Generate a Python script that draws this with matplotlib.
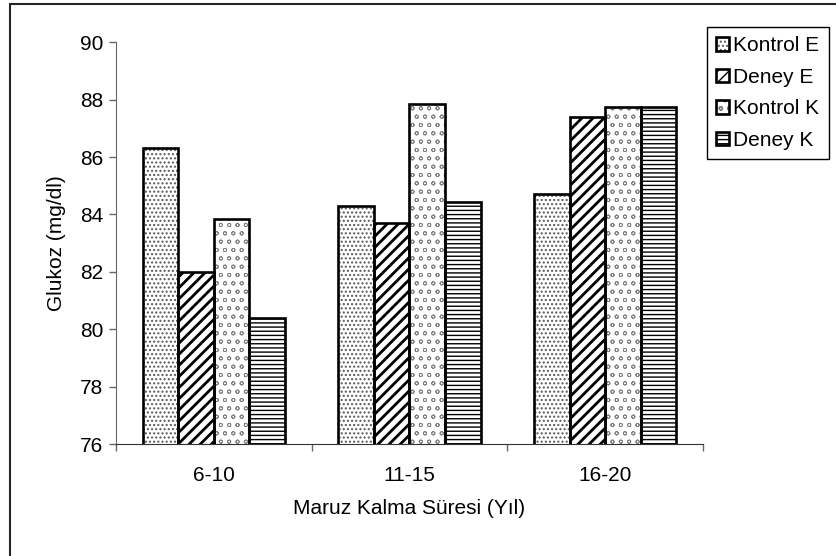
import numpy as np
import matplotlib
matplotlib.use("Agg")
import matplotlib.pyplot as plt
from matplotlib.patches import Rectangle
from matplotlib.legend_handler import HandlerTuple

# data
groups = ["6-10", "11-15", "16-20"]
series = ["Kontrol E", "Deney E", "Kontrol K", "Deney K"]
kontrol_e = [86.3, 84.3, 84.7]
deney_e = [82.0, 83.7, 87.4]
kontrol_k = [83.85, 87.85, 87.75]
deney_k = [80.4, 84.45, 87.75]
yticks = [76, 78, 80, 82, 84, 86, 88, 90]

# hatch styles per series (pattern, hatch colour, hatch linewidth)
styles = [("....", "0.35", 1.0), ("///", "black", 2.0),
          ("oo", "0.5", 0.6), ("----", "black", 1.0)]

plt.rcParams["font.family"] = ["Liberation Sans", "DejaVu Sans"]
plt.rcParams["font.size"] = 15

fig = plt.figure(figsize=(8.36, 5.56), dpi=100)
ax = fig.add_axes([116 / 836, 1 - 444 / 556, (703 - 116) / 836, (444 - 42.3) / 556])

x = np.arange(len(groups))
width = 0.182
handles = []
for i, vals in enumerate([kontrol_e, deney_e, kontrol_k, deney_k]):
    pos = x + (i - 1.5) * width
    hatch, hcol, hlw = styles[i]
    with plt.rc_context({"hatch.linewidth": hlw}):
        h = ax.bar(pos, vals, width, bottom=0, color="white", edgecolor=hcol,
                   hatch=hatch, linewidth=0, zorder=2)
    for p in h:
        if hasattr(p, "set_hatch_linewidth"):
            p.set_hatch_linewidth(hlw)
    e = ax.bar(pos, vals, width, bottom=0, fill=False, edgecolor="black",
               linewidth=1.9, zorder=3)
    handles.append((h, e))

ax.set_ylim(76, 90)
ax.set_xlim(-0.5, 2.5)
ax.set_yticks(yticks)
ax.tick_params(axis="y", direction="out", length=5, width=1, color="0.4", pad=4)

# category boundaries get the tick marks, labels sit in between
ax.set_xticks([-0.5, 0.5, 1.5, 2.5])
ax.set_xticklabels([])
ax.set_xticks(x, minor=True)
ax.set_xticklabels(groups, minor=True)
ax.tick_params(axis="x", which="major", direction="out", length=5, width=1, color="0.4")
ax.tick_params(axis="x", which="minor", length=0, pad=16)

for s in ["top", "right"]:
    ax.spines[s].set_visible(False)
ax.spines["left"].set_color("0.4")
ax.spines["bottom"].set_color("0.2")

ax.set_ylabel("Glukoz (mg/dl)", labelpad=10)
ax.set_xlabel("Maruz Kalma Süresi (Yıl)", labelpad=10)

leg = fig.legend(handles, series, loc="upper left",
                 bbox_to_anchor=(707 / 836, 1 - 27 / 556),
                 bbox_transform=fig.transFigure,
                 handler_map={tuple: HandlerTuple(ndivide=1)},
                 fancybox=False, edgecolor="black", framealpha=1,
                 borderpad=0.45, borderaxespad=0, handlelength=0.6,
                 handleheight=0.6, handletextpad=0.2, labelspacing=0.6)
leg.get_frame().set_linewidth(1)

# chart-area border (runs off the right and bottom of the picture)
fig.add_artist(Rectangle((10 / 836, -0.2), 1.2, 1 - 4 / 556 + 0.2,
                         transform=fig.transFigure, fill=False,
                         edgecolor="0.15", linewidth=1.5))

fig.savefig("out.png", dpi=100)
